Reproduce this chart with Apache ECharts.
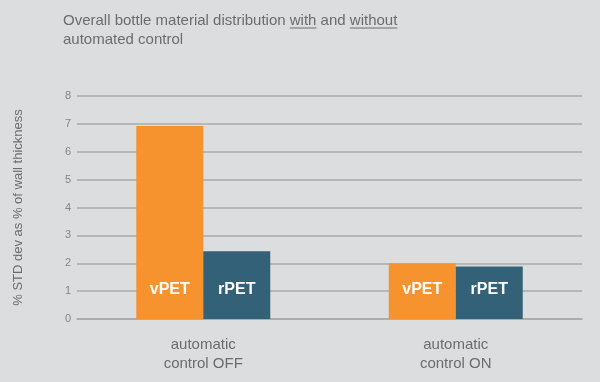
<!DOCTYPE html>
<html><head><meta charset="utf-8">
<script src="https://cdn.jsdelivr.net/npm/echarts@6/dist/echarts.min.js"></script>
<style>html,body{margin:0;padding:0;background:#dcdddf}#c{width:600px;height:382px}</style>
</head><body><div id="c"></div>
<script>
const categories = ['automatic\ncontrol OFF', 'automatic\ncontrol ON'];
const vPET = [6.92, 2.0];
const rPET = [2.43, 1.88];
const yTicks = [0, 1, 2, 3, 4, 5, 6, 7, 8];
const seriesNames = ['vPET', 'rPET'];

const FONT = "'Liberation Sans', Arial, sans-serif";
const titleColor = '#6b6c6e';
// build title with underlines
const ctx = document.createElement('canvas').getContext('2d');
ctx.font = '15px ' + FONT;
const parts = [['Overall bottle material distribution ', false], ['with', true], [' and ', false], ['without', true]];
const tx0 = 63, ty1 = 26, ty2 = 45;
const graphics = [];
let x = tx0;
parts.forEach(([t, u]) => {
  const w = ctx.measureText(t).width;
  graphics.push({type: 'text', left: x, top: ty1 - 13, style: {text: t, font: '15px ' + FONT, fill: titleColor}});
  if (u) graphics.push({type: 'line', shape: {x1: x, y1: ty1 + 2, x2: x + w, y2: ty1 + 2}, style: {stroke: titleColor, lineWidth: 1}});
  x += w;
});
graphics.push({type: 'text', left: tx0, top: ty2 - 13, style: {text: 'automated control', font: '15px ' + FONT, fill: titleColor}});

const chart = echarts.init(document.getElementById('c'));
const labelCfg = name => ({show: true, position: 'insideBottom', distance: 21, formatter: name, color: '#fff', fontWeight: 'bold', fontSize: 16, fontFamily: FONT});
chart.setOption({
  backgroundColor: '#dcdddf',
  animation: false,
  graphic: graphics,
  grid: {left: 77, right: 18, top: 96, bottom: 63, containLabel: false},
  xAxis: {
    type: 'category', data: categories,
    axisTick: {show: false},
    axisLine: {lineStyle: {color: '#a9aaac', width: 1.5}},
    axisLabel: {color: '#6b6c6e', fontSize: 15, fontFamily: FONT, lineHeight: 19, margin: 16}
  },
  yAxis: {
    type: 'value', min: yTicks[0], max: yTicks[yTicks.length - 1], interval: 1,
    name: '% STD dev as % of wall thickness', nameLocation: 'middle', nameGap: 52,
    nameTextStyle: {color: '#6b6c6e', fontSize: 13, fontFamily: FONT},
    axisLine: {show: false}, axisTick: {show: false},
    axisLabel: {color: '#858688', fontSize: 11, fontFamily: FONT, margin: 6},
    splitLine: {lineStyle: {color: '#a9aaac', width: 1.5}}
  },
  series: [
    {name: seriesNames[0], type: 'bar', data: vPET, barWidth: 67, barGap: '0%', itemStyle: {color: '#f7932f'}, label: labelCfg(seriesNames[0])},
    {name: seriesNames[1], type: 'bar', data: rPET, barWidth: 67, barGap: '0%', itemStyle: {color: '#336178'}, label: labelCfg(seriesNames[1])}
  ]
});
</script></body></html>
